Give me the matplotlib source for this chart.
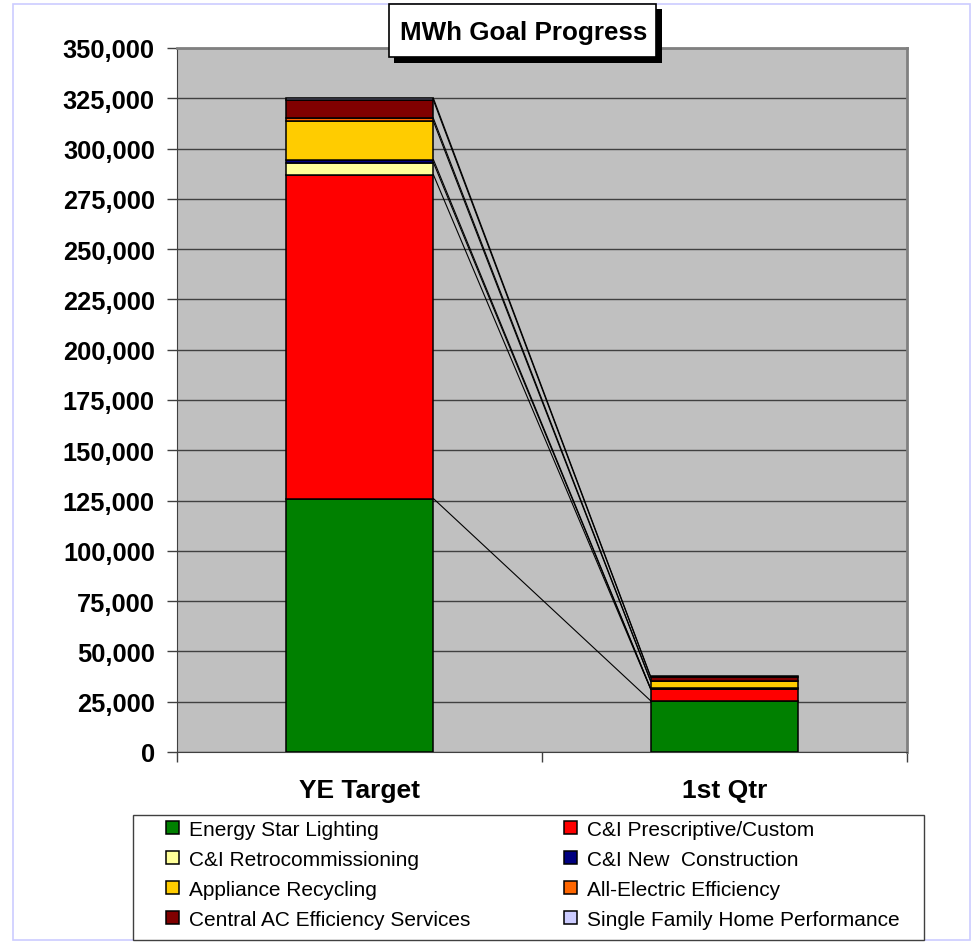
import matplotlib
matplotlib.use("Agg")
import matplotlib.pyplot as plt
from matplotlib.patches import Rectangle, Patch
from matplotlib.ticker import FuncFormatter, FixedLocator
import numpy as np

plt.rcParams['font.family'] = ['Liberation Sans', 'DejaVu Sans']

categories = ['YE Target', '1st Qtr']
series_names = ['Energy Star Lighting', 'C&I Prescriptive/Custom', 'C&I Retrocommissioning',
                'C&I New  Construction', 'Appliance Recycling', 'All-Electric Efficiency',
                'Central AC Efficiency Services', 'Single Family Home Performance']
energy_star = [126000, 25500]
ci_prescriptive = [161000, 5800]
ci_retro = [6000, 200]
ci_new_construction = [1500, 100]
appliance_recycling = [19000, 3600]
all_electric = [1500, 200]
central_ac = [9000, 1900]
single_family = [1000, 300]
series_values = [energy_star, ci_prescriptive, ci_retro, ci_new_construction,
                 appliance_recycling, all_electric, central_ac, single_family]
colors = ['#008000', '#FF0000', '#FFFF99', '#000080', '#FFCC00', '#FF6600', '#800000', '#CCCCFF']
yticks = list(range(0, 350001, 25000))

W, H = 977, 945
fig = plt.figure(figsize=(W / 100, H / 100), dpi=100)
fig.patch.set_facecolor('white')

def fx(px):
    return px / W

def fy(py):
    return 1 - py / H

# outer chart-area border
fig.add_artist(Rectangle((fx(13), fy(941)), fx(970) - fx(13), fy(5) - fy(941),
                         transform=fig.transFigure, facecolor='none', edgecolor='#CCCCFF', lw=1.2))

ax = fig.add_axes([fx(177), fy(753), fx(907) - fx(177), fy(49) - fy(753)])
ax.set_facecolor('#C0C0C0')

x = np.arange(len(categories))
width = 0.405
bottom = np.zeros(len(categories))
tops = []
for name, vals, c in zip(series_names, series_values, colors):
    vals = np.array(vals, dtype=float)
    ax.bar(x, vals, width, bottom=bottom, color=c, edgecolor='black', linewidth=1.1, zorder=3, label=name)
    bottom = bottom + vals
    tops.append(bottom.copy())

# series lines
for t in tops:
    ax.plot([x[0] + width / 2, x[1] - width / 2], [t[0], t[1]], color='black', lw=0.8, zorder=2)

ax.set_xlim(-0.5, 1.5)
ax.set_ylim(0, 350000)
ax.yaxis.set_major_locator(FixedLocator(yticks))
ax.yaxis.set_major_formatter(FuncFormatter(lambda v, p: f"{v:,.0f}"))
ax.grid(axis='y', color='#404040', lw=1.0, zorder=1)
ax.set_axisbelow(True)

ax.set_xticks(x)
ax.set_xticklabels(categories)
ax.set_xticks([-0.5, 0.5, 1.5], minor=True)
ax.tick_params(axis='x', which='major', length=0, pad=19, labelsize=19)
ax.tick_params(axis='x', which='minor', length=7, width=1, color='#404040', direction='out')
ax.tick_params(axis='y', length=7, width=1, color='#404040', direction='out', pad=9, labelsize=18.3)
for lab in ax.get_xticklabels() + ax.get_yticklabels():
    lab.set_fontweight('bold')

ax.spines['left'].set_color('#404040')
ax.spines['bottom'].set_color('#404040')
ax.spines['top'].set_color('#808080')
ax.spines['right'].set_color('#808080')
ax.spines['top'].set_linewidth(2)
ax.spines['right'].set_linewidth(2)

# title box with shadow
fig.add_artist(Rectangle((fx(394), fy(64)), fx(662) - fx(394), fy(10) - fy(64),
                         transform=fig.transFigure, facecolor='black', edgecolor='black', lw=0, zorder=10))
fig.add_artist(Rectangle((fx(389), fy(58)), fx(656) - fx(389), fy(5) - fy(58),
                         transform=fig.transFigure, facecolor='white', edgecolor='black', lw=1.2, zorder=11))
fig.text(fx(524), fy(33), 'MWh Goal Progress', ha='center', va='center', fontsize=18.7,
         fontweight='bold', zorder=12)

# legend frame
fig.add_artist(Rectangle((fx(133), fy(941)), fx(924) - fx(133), fy(816) - fy(941),
                         transform=fig.transFigure, facecolor='white', edgecolor='#404040', lw=1.0, zorder=1))

handles = [Patch(facecolor=c, edgecolor='black', lw=1.1) for c in colors]
col1 = [0, 2, 4, 6]
col2 = [1, 3, 5, 7]
for cols, xpos in ((col1, 166), (col2, 564)):
    lg = fig.legend([handles[i] for i in cols], [series_names[i] for i in cols],
                    loc='upper left', bbox_to_anchor=(fx(xpos), fy(821)), frameon=False,
                    fontsize=15, handlelength=0.6, handleheight=0.6, handletextpad=0.5,
                    labelspacing=0.53, borderpad=0, borderaxespad=0)
    lg.set_zorder(5)

fig.savefig('out.png', dpi=100, facecolor='white')
